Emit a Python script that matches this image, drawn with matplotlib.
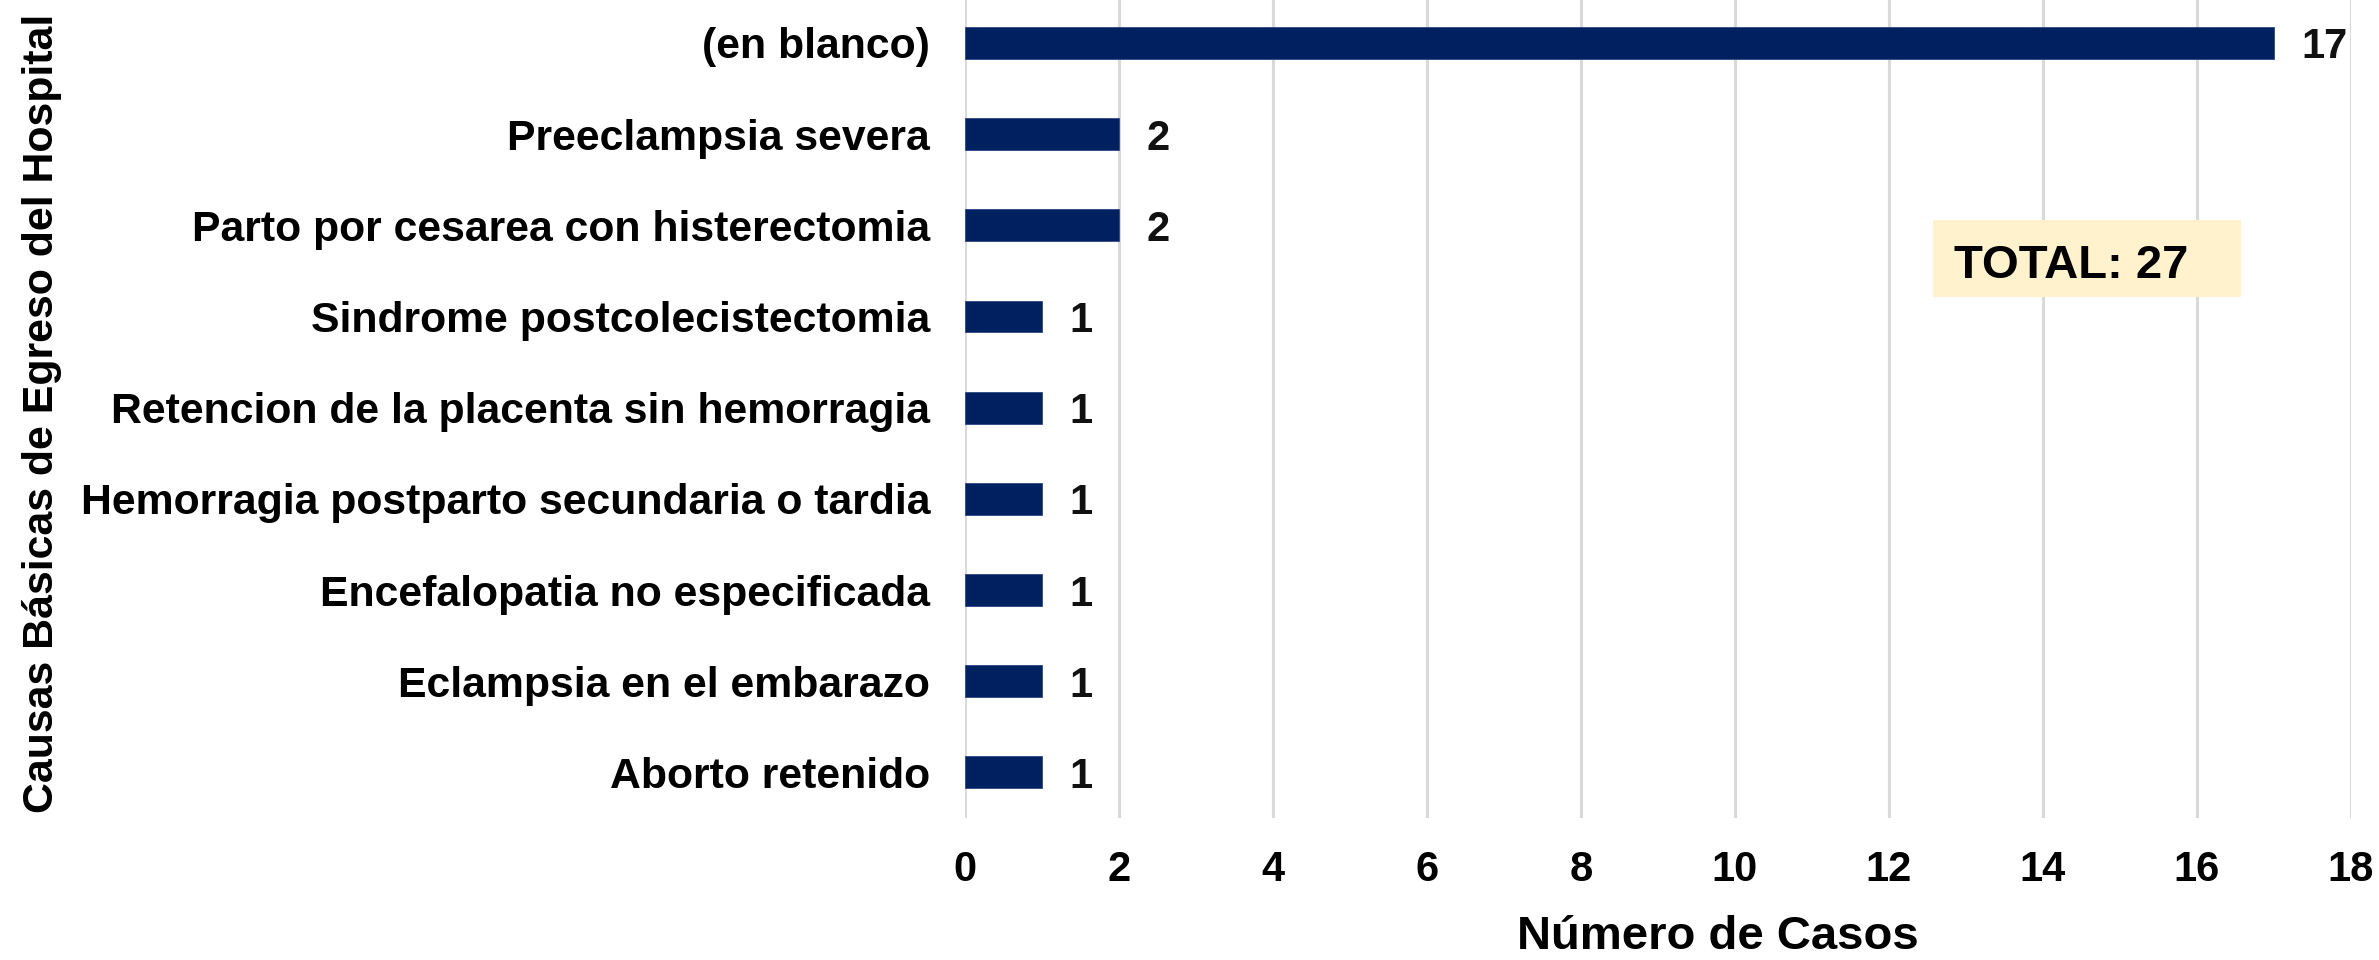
import numpy as np
import matplotlib
matplotlib.use("Agg")
from matplotlib import pyplot as plt
from matplotlib.patches import Rectangle

plt.rcParams['font.family'] = ['Liberation Sans', 'DejaVu Sans']
plt.rcParams['font.weight'] = 'bold'

# Causes of hospital discharge, bottom to top
causas = ["Aborto retenido",
          "Eclampsia en el embarazo",
          "Encefalopatia no especificada",
          "Hemorragia postparto secundaria o tardia",
          "Retencion de la placenta sin hemorragia",
          "Sindrome postcolecistectomia",
          "Parto por cesarea con histerectomia",
          "Preeclampsia severa",
          "(en blanco)"]
casos = [1, 1, 1, 1, 1, 1, 2, 2, 17]
total = 27

xticks = np.arange(0, 19, 2)

fig = plt.figure(figsize=(23.79, 9.6), dpi=100)
ax = fig.add_axes([0.4056, 0.1479, 0.5826, 0.8548])

y = np.arange(len(causas))
ax.barh(y, casos, height=0.35, color='#002060', edgecolor='#2a4a85', linewidth=0.6, zorder=3)

for yi, v in zip(y, casos):
    ax.annotate(str(v), xy=(v, yi), xytext=(20, 0), textcoords='offset points',
                ha='left', va='center_baseline', fontsize=30, fontweight='bold', color='#111111')

ax.set_xlim(0, 18)
ax.set_ylim(-0.5, len(causas) - 0.5)
ax.set_xticks(xticks)
ax.set_yticks(y)
ax.set_yticklabels(causas)
ax.tick_params(axis='y', length=0, pad=25, labelsize=30.8)
ax.tick_params(axis='x', length=0, pad=23, labelsize=30)
ax.grid(axis='x', color='#d9d9d9', linewidth=2.2, zorder=0)
for s in ax.spines.values():
    s.set_visible(False)

fig.text(0.0177, 0.5698, "Causas Básicas de Egreso del Hospital", rotation=90,
         ha='center', va='center', fontsize=30.9, fontweight='bold')
fig.text(0.7222, 0.011, "Número de Casos", ha='center', va='baseline',
         fontsize=34, fontweight='bold')

# total box
fig.patches.append(Rectangle((0.8125, 0.6906), 0.1295, 0.0802, transform=fig.transFigure,
                             facecolor='#fff2cc', edgecolor='none', zorder=5))
fig.text(0.8214, 0.7104, "TOTAL: %d" % total, ha='left', va='baseline',
         fontsize=34, fontweight='bold', zorder=6)

fig.savefig("out.png", dpi=100)
